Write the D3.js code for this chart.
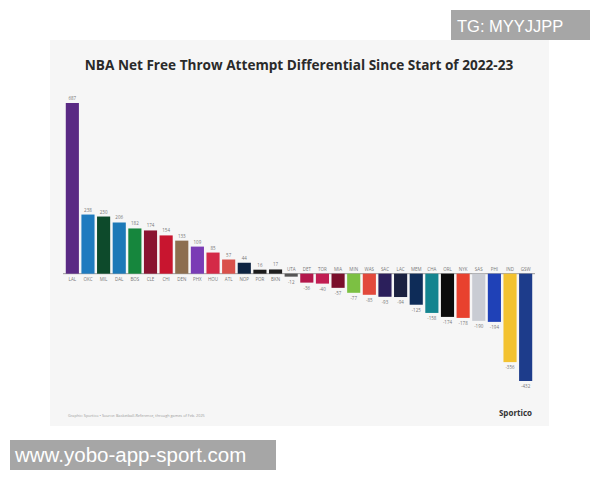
<!DOCTYPE html>
<html>
<head>
<meta charset="utf-8">
<script src="https://cdn.jsdelivr.net/npm/d3@7"></script>
<style>
  body { margin: 0; background: #fff; }
  svg { display: block; font-family: "Open Sans", "DejaVu Sans", sans-serif; }
</style>
</head>
<body>
<svg width="600" height="480"></svg>
<script>
// teams, left to right
var teams = ["LAL","OKC","MIL","DAL","BOS","CLE","CHI","DEN","PHX","HOU",
  "ATL","NOP","POR","BKN","UTA","DET","TOR","MIA","MIN","WAS",
  "SAC","LAC","MEM","CHA","ORL","NYK","SAS","PHI","IND","GSW"];

// net free throw attempt differential
var values = [687, 238, 230, 206, 182, 174, 154, 133, 109, 85,
  57, 44, 16, 17, -12, -36, -40, -57, -77, -85,
  -93, -94, -125, -158, -174, -178, -190, -194, -356, -432];

var colors = ["#5a2a84","#1f7bbf","#0d4a2b","#1c79b7","#16863d","#8a1431","#c8152f","#8d6e4f","#7a3cb5","#d42a47",
  "#d9514b","#0e2442","#1c1c1c","#1f1f1f","#555555","#b3174b","#c11e53","#7a0f2b","#7cc043","#e2493c",
  "#2b1f5b","#1b2140","#0e2c58","#13848f","#0b0b0b","#e8412e","#c9ccd3","#1f41b7","#f3c230","#1d3c8b"];

var svg = d3.select("svg");

// light card behind the chart
svg.append("rect")
  .attr("x", 50).attr("y", 40)
  .attr("width", 499).attr("height", 386)
  .attr("fill", "#f6f6f6");

svg.append("text")
  .attr("x", 299).attr("y", 70)
  .attr("text-anchor", "middle")
  .attr("font-size", 13.6)
  .attr("font-weight", "bold")
  .attr("fill", "#2a2a2a")
  .text("NBA Net Free Throw Attempt Differential Since Start of 2022-23");

var x = d3.scaleBand()
  .domain(teams)
  .range([65, 533])
  .paddingInner(0.16)
  .paddingOuter(0.05);

var y = d3.scaleLinear()
  .domain([d3.min(values), d3.max(values)])
  .range([381, 103]);

var rows = teams.map(function(t, i) { return {team: t, value: values[i], color: colors[i]}; });

// zero line
svg.append("line")
  .attr("x1", 63).attr("x2", 535)
  .attr("y1", y(0)).attr("y2", y(0))
  .attr("stroke", "#9a9a9a")
  .attr("stroke-width", 1);

svg.append("g")
  .selectAll("rect")
  .data(rows)
  .enter().append("rect")
    .attr("x", function(d) { return x(d.team); })
    .attr("y", function(d) { return Math.min(y(d.value), y(0)); })
    .attr("width", x.bandwidth())
    .attr("height", function(d) { return Math.max(1.5, Math.abs(y(d.value) - y(0))); })
    .attr("fill", function(d) { return d.color; });

// value labels: above positive bars, below negative ones
svg.append("g")
  .selectAll("text")
  .data(rows)
  .enter().append("text")
    .attr("x", function(d) { return x(d.team) + x.bandwidth() / 2; })
    .attr("y", function(d) { return d.value >= 0 ? y(d.value) - 3 : y(d.value) + 7; })
    .attr("text-anchor", "middle")
    .attr("font-size", 4.5)
    .attr("fill", "#777")
    .text(function(d) { return d.value; });

// team labels on the other side of the zero line
svg.append("g")
  .selectAll("text")
  .data(rows)
  .enter().append("text")
    .attr("x", function(d) { return x(d.team) + x.bandwidth() / 2; })
    .attr("y", function(d) { return d.value >= 0 ? y(0) + 7 : y(0) - 3; })
    .attr("text-anchor", "middle")
    .attr("font-size", 4.5)
    .attr("fill", "#777")
    .text(function(d) { return d.team; });

svg.append("text")
  .attr("x", 68).attr("y", 417)
  .attr("font-size", 3.8)
  .attr("fill", "#9a9a9a")
  .text("Graphic: Sportico \u2022 Source: Basketball-Reference, through games of Feb. 2025");

svg.append("text")
  .attr("x", 532).attr("y", 416)
  .attr("text-anchor", "end")
  .attr("font-size", 8)
  .attr("font-weight", "bold")
  .attr("fill", "#333")
  .text("Sportico");

// watermark boxes
svg.append("rect")
  .attr("x", 451).attr("y", 10).attr("width", 139).attr("height", 30)
  .attr("fill", "#a6a6a6");
svg.append("text")
  .attr("x", 457).attr("y", 32)
  .attr("font-family", "Liberation Sans, Arial, sans-serif")
  .attr("font-size", 16.5)
  .attr("fill", "#fff")
  .text("TG: MYYJJPP");

svg.append("rect")
  .attr("x", 10).attr("y", 440).attr("width", 266).attr("height", 30)
  .attr("fill", "#a6a6a6");
svg.append("text")
  .attr("x", 15).attr("y", 462)
  .attr("font-family", "Liberation Sans, Arial, sans-serif")
  .attr("font-size", 20.5)
  .attr("fill", "#fff")
  .text("www.yobo-app-sport.com");
</script>
</body>
</html>
